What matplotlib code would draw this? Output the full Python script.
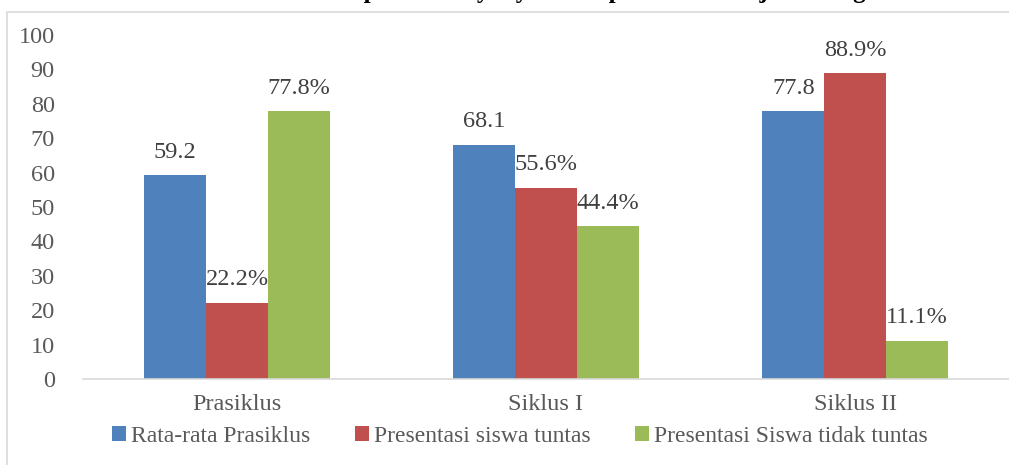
import numpy as np
import matplotlib
matplotlib.use("Agg")
from matplotlib import pyplot as plt
from matplotlib.patches import Rectangle

kategori = ["Prasiklus", "Siklus I", "Siklus II"]
rata_rata = [59.2, 68.1, 77.8]
tuntas = [22.2, 55.6, 88.9]
tidak_tuntas = [77.8, 44.4, 11.1]
label_seri = ["Rata-rata Prasiklus", "Presentasi siswa tuntas", "Presentasi Siswa tidak tuntas"]
warna = ["#4F81BD", "#C0504D", "#9BBB59"]

plt.rcParams['font.family'] = ['Liberation Serif', 'DejaVu Serif']
abu = "#595959"
ukuran = 17.5

fig = plt.figure(figsize=(10.09, 4.65), dpi=100)
# bingkai grafik
fig.patches.append(Rectangle((7/1009, -0.1), 1.1, (465-12)/465 + 0.1,
                             transform=fig.transFigure, fill=False,
                             edgecolor="#D9D9D9", linewidth=1.2))
# judul (terpotong di bagian atas, hanya ekor huruf yang tampak)
fig.text(0.535, 1.005, "Grafik Kemampuan Bernyanyi Siswa pada Pembelajaran Lagu",
         ha='center', va='baseline', fontsize=18, fontweight='bold', color='black')

ax = fig.add_axes([82.5/1009, 86/465, 927/1009, (379-35)/465])
x = np.arange(len(kategori))
lebar = 0.2
b1 = ax.bar(x - lebar, rata_rata, lebar, color=warna[0], label=label_seri[0])
b2 = ax.bar(x, tuntas, lebar, color=warna[1], label=label_seri[1])
b3 = ax.bar(x + lebar, tidak_tuntas, lebar, color=warna[2], label=label_seri[2])

ax.bar_label(b1, labels=[f"{v:.1f}" for v in rata_rata], padding=9, fontsize=ukuran, color="#404040")
ax.bar_label(b2, labels=[f"{v:.1f}%" for v in tuntas], padding=9, fontsize=ukuran, color="#404040")
ax.bar_label(b3, labels=[f"{v:.1f}%" for v in tidak_tuntas], padding=9, fontsize=ukuran, color="#404040")

ax.set_xlim(-0.5, 2.5)
ax.set_ylim(0, 100)
ax.set_yticks(range(0, 101, 10))
ax.set_xticks(x)
ax.set_xticklabels(kategori)
ax.tick_params(axis='both', length=0, labelsize=ukuran, labelcolor=abu)
ax.tick_params(axis='y', pad=20)
ax.tick_params(axis='x', pad=11)
for s in ['top', 'right', 'left']:
    ax.spines[s].set_visible(False)
ax.spines['bottom'].set_color("#D9D9D9")
ax.spines['bottom'].set_linewidth(1.2)
ax.patch.set_alpha(0)

leg = fig.legend(loc='center', bbox_to_anchor=(0.515, 1 - 436/465), ncol=3, frameon=False,
                 fontsize=17, handlelength=0.6, handleheight=0.6, handletextpad=0.2,
                 columnspacing=1.9, borderaxespad=0)
for t in leg.get_texts():
    t.set_color(abu)

fig.savefig("out.png", dpi=100)
